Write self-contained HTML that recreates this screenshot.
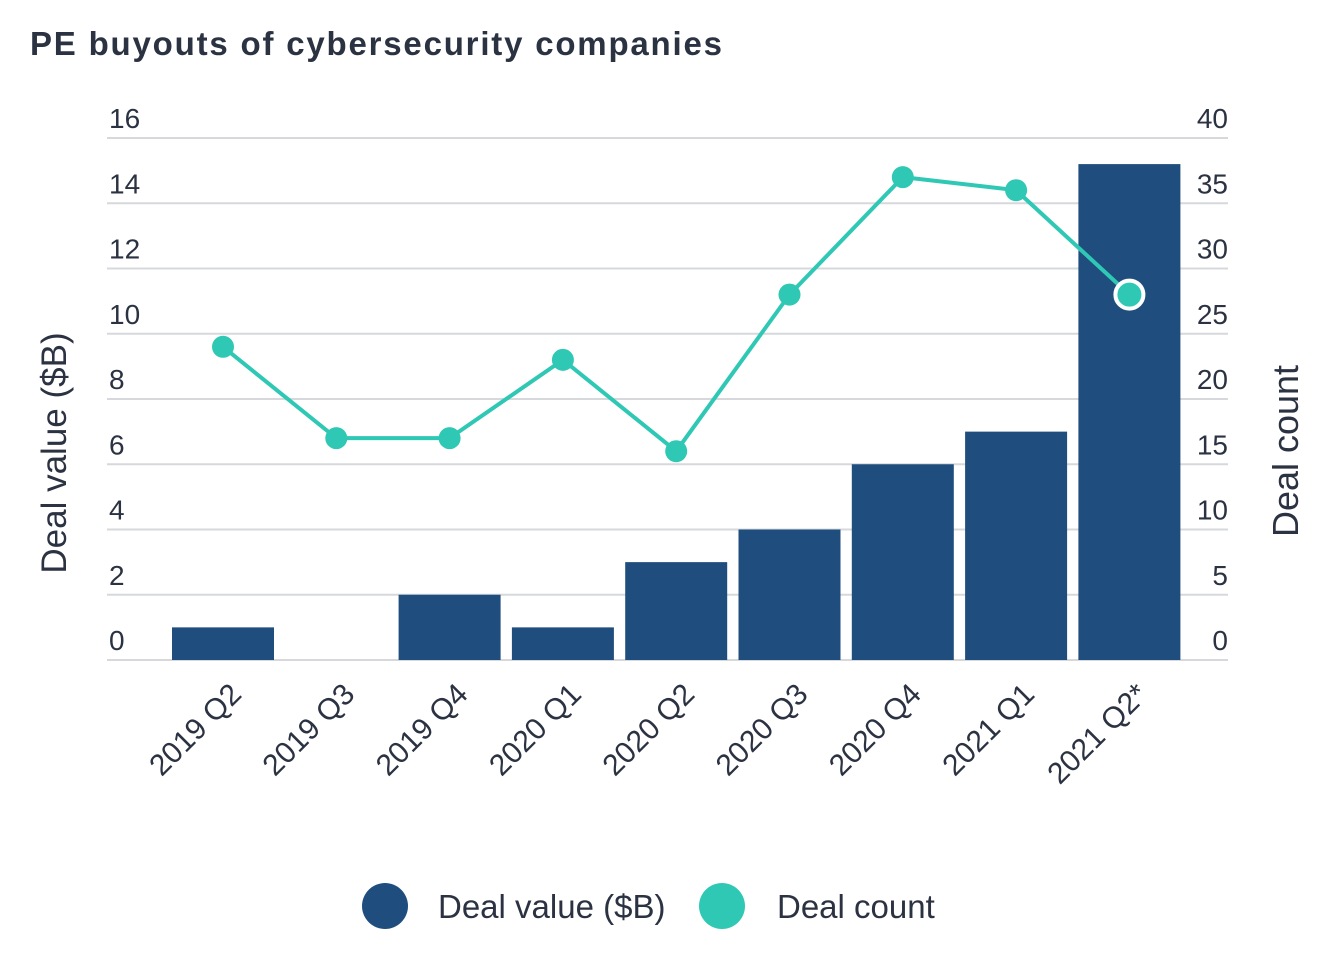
<!DOCTYPE html>
<html><head><meta charset="utf-8"><style>
body{margin:0;background:#fff;font-family:"Liberation Sans",sans-serif;}
svg text{font-family:"Liberation Sans",sans-serif;}
</style></head><body>
<svg width="1324" height="952" viewBox="0 0 1324 952">
<text x="30" y="55" font-size="33" font-weight="bold" letter-spacing="1.8" fill="#2b3242">PE buyouts of cybersecurity companies</text>
<g id="grid"></g><g id="bars"></g><g id="line"></g><g id="xl"></g>
<text transform="translate(66,453) rotate(-90)" text-anchor="middle" font-size="35" fill="#2b3242">Deal value ($B)</text>
<text transform="translate(1298,451) rotate(-90)" text-anchor="middle" font-size="36" fill="#2b3242">Deal count</text>
<g>
<circle cx="385" cy="906" r="23" fill="#1f4e7e"/>
<text x="438" y="918" font-size="33" fill="#2b3242">Deal value ($B)</text>
<circle cx="722" cy="906" r="23" fill="#2ec8b4"/>
<text x="777" y="918" font-size="33" fill="#2b3242">Deal count</text>
</g>
</svg>
<script>
const categories=["2019 Q2","2019 Q3","2019 Q4","2020 Q1","2020 Q2","2020 Q3","2020 Q4","2021 Q1","2021 Q2*"];
const dealValues=[1,0,2,1,3,4,6,7,15.2];
const dealCounts=[24,17,17,23,16,28,37,36,28];
const leftTicks=[0,2,4,6,8,10,12,14,16];
const rightTicks=[0,5,10,15,20,25,30,35,40];
const NS="http://www.w3.org/2000/svg";
const x0=107,x1=1228,yB=660,yT=138;
const yL=v=>yB-(v/16)*(yB-yT);
const yR=v=>yB-(v/40)*(yB-yT);
const step=113.3,first=223;
const xC=i=>first+i*step;
function mk(t,a,p){const e=document.createElementNS(NS,t);for(const k in a)e.setAttribute(k,a[k]);p.appendChild(e);return e;}
const grid=document.getElementById('grid');
leftTicks.forEach((v,i)=>{
 const y=yL(v);
 const l=mk('line',{x1:x0,x2:x1,y1:y,y2:y,stroke:'#d6d8dc','stroke-width':2},grid);
 
 
 const t=mk('text',{x:109,y:y-10,'font-size':28,fill:'#2b3242'},grid);t.textContent=v;
 
 
 const r=mk('text',{x:1228,y:y-10,'font-size':28,fill:'#2b3242','text-anchor':'end'},grid);r.textContent=rightTicks[i];
 
 
});
const bars=document.getElementById('bars');
dealValues.forEach((v,i)=>{
 if(v<=0)return;
 const b=mk('rect',{x:xC(i)-51,y:yL(v),width:102,height:yB-yL(v),fill:'#1f4e7e'},bars);
 
 
});
const lg=document.getElementById('line');
const pts=dealCounts.map((v,i)=>xC(i)+','+yR(v)).join(' ');
const pl=mk('polyline',{points:pts,fill:'none',stroke:'#2ec8b4','stroke-width':4},lg);


dealCounts.forEach((v,i)=>{
 const last=i===dealCounts.length-1;
 const c=mk('circle',{cx:xC(i),cy:yR(v),r:last?14:11,fill:'#2ec8b4',stroke:last?'#fff':'none','stroke-width':4},lg);
 
 
});
const xl=document.getElementById('xl');
categories.forEach((c,i)=>{
 const t=mk('text',{'font-size':30,fill:'#2b3242','text-anchor':'end',transform:`translate(${xC(i)+20},${696}) rotate(-45)`},xl);
 t.textContent=c;
 
 
});
</script>
</body></html>
